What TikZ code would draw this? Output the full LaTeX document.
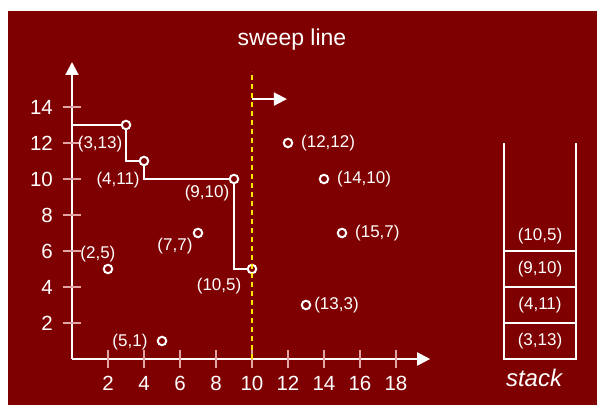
\documentclass[tikz,border=0pt]{standalone}
\usepackage{fontspec}
\setmainfont{Liberation Sans}
\usetikzlibrary{arrows.meta}
\definecolor{bgred}{RGB}{127,0,0}
\definecolor{tickpink}{RGB}{225,165,165}
\definecolor{sweepyellow}{RGB}{255,230,0}
\begin{document}
\begin{tikzpicture}[x=18pt,y=18pt,
  axis/.style={draw=white,line width=2pt,-{Triangle[length=13pt,width=13pt]}},
  tickmark/.style={draw=tickpink,line width=1.3pt},
  ticklabel/.style={text=white,font=\fontsize{20.5}{22}\selectfont,inner sep=0pt},
  pt/.style={circle,draw=white,line width=2pt,fill=none,minimum size=8.5pt,inner sep=0pt},
  ptlabel/.style={text=white,font=\fontsize{17}{19}\selectfont,inner sep=0pt},
  chain/.style={draw=white,line width=2pt},
  sweep/.style={draw=sweepyellow,line width=1.6pt,dash pattern=on 5pt off 4pt},
  cell/.style={draw=white,line width=1.8pt,minimum width=72pt,minimum height=36pt,inner sep=0pt,
    outer sep=0pt,text=white,font=\fontsize{17}{19}\selectfont}]
\useasboundingbox (-4,-2.556) rectangle (29.167,19.944);
\fill[bgred] (-3.556,-2.556) rectangle (29.167,19.333);

% axes
\coordinate (O) at (0,0);
\coordinate (xEnd) at (19.9,0);
\coordinate (yEnd) at (0,16.5);
\draw[axis] (O) -- (xEnd);
\draw[axis] (O) -- (yEnd);
\foreach \v in {2,4,...,18} {
  \draw[tickmark] (\v,-0.5) -- (\v,0.5);
  \node[ticklabel] at (\v,-1.35) {\v};
}
\foreach \v in {2,4,...,14} {
  \draw[tickmark] (-0.5,\v) -- (0.5,\v);
  \node[ticklabel,anchor=east] at (-1.05,\v) {\v};
}

% points
\node[pt] (p313) at (3,13) {};
\node[pt] (p411) at (4,11) {};
\node[pt] (p910) at (9,10) {};
\node[pt] (p105) at (10,5) {};
\node[pt] (p1212) at (12,12) {};
\node[pt] (p1410) at (14,10) {};
\node[pt] (p157) at (15,7) {};
\node[pt] (p133) at (13,3) {};
\node[pt] (p77) at (7,7) {};
\node[pt] (p25) at (2,5) {};
\node[pt] (p51) at (5,1) {};

\node[ptlabel] at (1.56,11.94) {(3,13)};
\node[ptlabel] at (2.56,9.94) {(4,11)};
\node[ptlabel] at (7.5,9.22) {(9,10)};
\node[ptlabel] at (8.17,4.06) {(10,5)};
\node[ptlabel,anchor=west] at (12.72,12) {(12,12)};
\node[ptlabel,anchor=west] at (14.72,10) {(14,10)};
\node[ptlabel,anchor=west] at (15.72,7) {(15,7)};
\node[ptlabel,anchor=west] at (13.45,3) {(13,3)};
\node[ptlabel] at (5.72,6.28) {(7,7)};
\node[ptlabel] at (1.44,5.83) {(2,5)};
\node[ptlabel] at (3.22,0.94) {(5,1)};

% staircase chain
\coordinate (s0) at (0,13);
\draw[chain] (s0) -- (p313);
\draw[chain] (p313) |- (p411);
\draw[chain] (p411) |- (p910);
\draw[chain] (p910) |- (p105);

% sweep line
\coordinate (sweepBot) at (10,0);
\coordinate (sweepTop) at (10,16);
\coordinate (sweepArr) at (10,14.44);
\coordinate (sweepArrEnd) at (11.94,14.44);
\draw[sweep] (sweepBot) -- (sweepTop);
\draw[axis] (sweepArr) -- (sweepArrEnd);
\node[text=white,font=\fontsize{23}{25}\selectfont,inner sep=0pt] (sweepLbl) at (12.22,17.72) {sweep line};

% stack
\node[cell] (c1) at (26,1) {(3,13)};
\node[cell] (c2) at (26,3) {(4,11)};
\node[cell] (c3) at (26,5) {(9,10)};
\coordinate (stTL) at (24,12);
\coordinate (stTR) at (28,12);
\draw[white,line width=1.8pt] (c3.north west) -- (stTL);
\draw[white,line width=1.8pt] (c3.north east) -- (stTR);
\node[ptlabel] (top) at (26,6.8) {(10,5)};
\node[text=white,font=\fontsize{24}{26}\selectfont\itshape,inner sep=0pt] (stackLbl) at (25.67,-1.06) {stack};
\end{tikzpicture}
\end{document}
